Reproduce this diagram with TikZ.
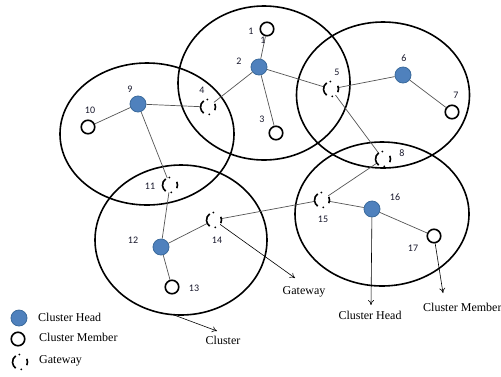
\documentclass[tikz,border=0pt]{standalone}
\usepackage{fontspec}
\setmainfont{Liberation Serif}
\newfontfamily\numfont{Carlito}
\usetikzlibrary{shapes.geometric,arrows.meta}
\definecolor{headblue}{HTML}{4F81BD}
\definecolor{headedge}{HTML}{3A6A9C}
\definecolor{edgegray}{HTML}{555555}
\definecolor{numcol}{HTML}{1A1A2E}
\begin{document}
\begin{tikzpicture}[x=1bp,y=-1bp,
 cluster/.style={ellipse, draw, line width=1.6bp, inner sep=0, outer sep=0},
 head/.style={circle, fill=headblue, draw=headedge, line width=0.8bp, minimum size=16bp, inner sep=0},
 member/.style={circle, draw, fill=white, line width=1.6bp, minimum size=13.5bp, inner sep=0},
 gate/.style={circle, minimum size=15bp, inner sep=0, outer sep=0},
 gwarc/.style={line width=1.6bp},
 link/.style={draw=edgegray, line width=0.7bp},
 pointer/.style={-{To[length=5bp,width=6bp]}, line width=0.6bp},
 num/.style={font=\numfont\fontsize{10bp}{12bp}\selectfont, text=numcol, inner sep=0},
 txt/.style={font=\fontsize{12bp}{14bp}\selectfont, inner sep=0}]
\useasboundingbox[fill=white] (0,0) rectangle (501,376);

% clusters
\node[cluster, minimum width=172bp, minimum height=154bp] (cA) at (264,83) {};
\node[cluster, minimum width=173bp, minimum height=146bp] (cB) at (383,95) {};
\node[cluster, minimum width=174bp, minimum height=142bp] (cC) at (147,134) {};
\node[cluster, minimum width=172bp, minimum height=150bp] (cD) at (181,240) {};
\node[cluster, minimum width=174bp, minimum height=144bp] (cE) at (382,214) {};

% nodes
\node[member] (n1) at (267,29) {};
\node[head] (n2) at (259,67) {};
\node[member] (n3) at (276,133) {};
\node[gate] (g4) at (208,107) {};
\node[gate] (g5) at (331,89) {};
\node[head] (n6) at (403,75) {};
\node[member] (n7) at (452,112) {};
\node[gate] (g8) at (383,159) {};
\node[head] (n9) at (138,104) {};
\node[member] (n10) at (88,127) {};
\node[gate] (g11) at (170,185) {};
\node[head] (n12) at (161,247) {};
\node[member] (n13) at (172,287) {};
\node[gate] (g14) at (214,220) {};
\node[gate] (g15) at (322,200) {};
\node[head] (n16) at (372,209) {};
\node[member] (n17) at (434,236) {};

% links
\draw[link] (n2) -- (n1);
\draw[link] (n2) -- (n3);
\draw[link] (n2) -- (g4);
\draw[link] (n2) -- (g5);
\draw[link] (g5) -- (n6);
\draw[link] (n6) -- (n7);
\draw[link] (g5) -- (g8);
\draw[link] (g8) -- (g15);
\draw[link] (g15) -- (g14);
\draw[link] (g15) -- (n16);
\draw[link] (n16) -- (n17);
\draw[link] (n9) -- (g4);
\draw[link] (n9) -- (n10);
\draw[link] (n9) -- (g11);
\draw[link] (g11) -- (n12);
\draw[link] (n12) -- (g14);
\draw[link] (n12) -- (n13);

% labels
\node[num] (t1a) at (251,31) {1};
\node[num] (t1b) at (263,40) {1};
\node[num] (t2) at (239,61) {2};
\node[num] (t3) at (262,119) {3};
\node[num] (t4) at (202,90) {4};
\node[num] (t5) at (337,72) {5};
\node[num] (t6) at (404,58) {6};
\node[num] (t7) at (456,95) {7};
\node[num] (t8) at (402,153) {8};
\node[num] (t9) at (130,89) {9};
\node[num] (t10) at (90,110) {10};
\node[num] (t11) at (150,186) {11};
\node[num] (t12) at (133,240) {12};
\node[num] (t13) at (194,288) {13};
\node[num] (t14) at (217,240) {14};
\node[num] (t15) at (323,219) {15};
\node[num] (t16) at (395,197) {16};
\node[num] (t17) at (413,248) {17};

% pointers
\coordinate (pGw) at (295,278);
\coordinate (pCH) at (371,305);
\coordinate (pCM) at (443,293);
\coordinate (pCl) at (217,331);
\draw[pointer] (g14) -- (pGw);
\draw[pointer] (n16) -- (pCH);
\draw[pointer] (n17) -- (pCM);
\draw[pointer] (cD.264) -- (pCl);
\node[txt] (xGw) at (304,292) {Gateway};
\node[txt] (xCH) at (370,315) {Cluster Head};
\node[txt, anchor=west] (xCM) at (423,307) {Cluster Member};
\node[txt] (xCl) at (223,340) {Cluster};

% legend
\node[head] (lh) at (19,318) {};
\node[member] (lm) at (18,339) {};
\node[gate] (lg) at (20,362) {};
\node[txt, anchor=west] (lht) at (38,317) {Cluster Head};
\node[txt, anchor=west] (lmt) at (39,337) {Cluster Member};
\node[txt, anchor=west] (lgt) at (39,361) {Gateway};

% gateway symbols
\foreach \g in {g4,g5,g8,g11,g14,g15,lg}{
  \draw[gwarc] (\g.125) arc[start angle=125,end angle=235,radius=7.5bp];
  \draw[gwarc] (\g.-25) arc[start angle=-25,end angle=25,radius=7.5bp];
  \fill (\g.95) circle[radius=1bp];
  \fill (\g.280) circle[radius=1bp];
}
\end{tikzpicture}
\end{document}
